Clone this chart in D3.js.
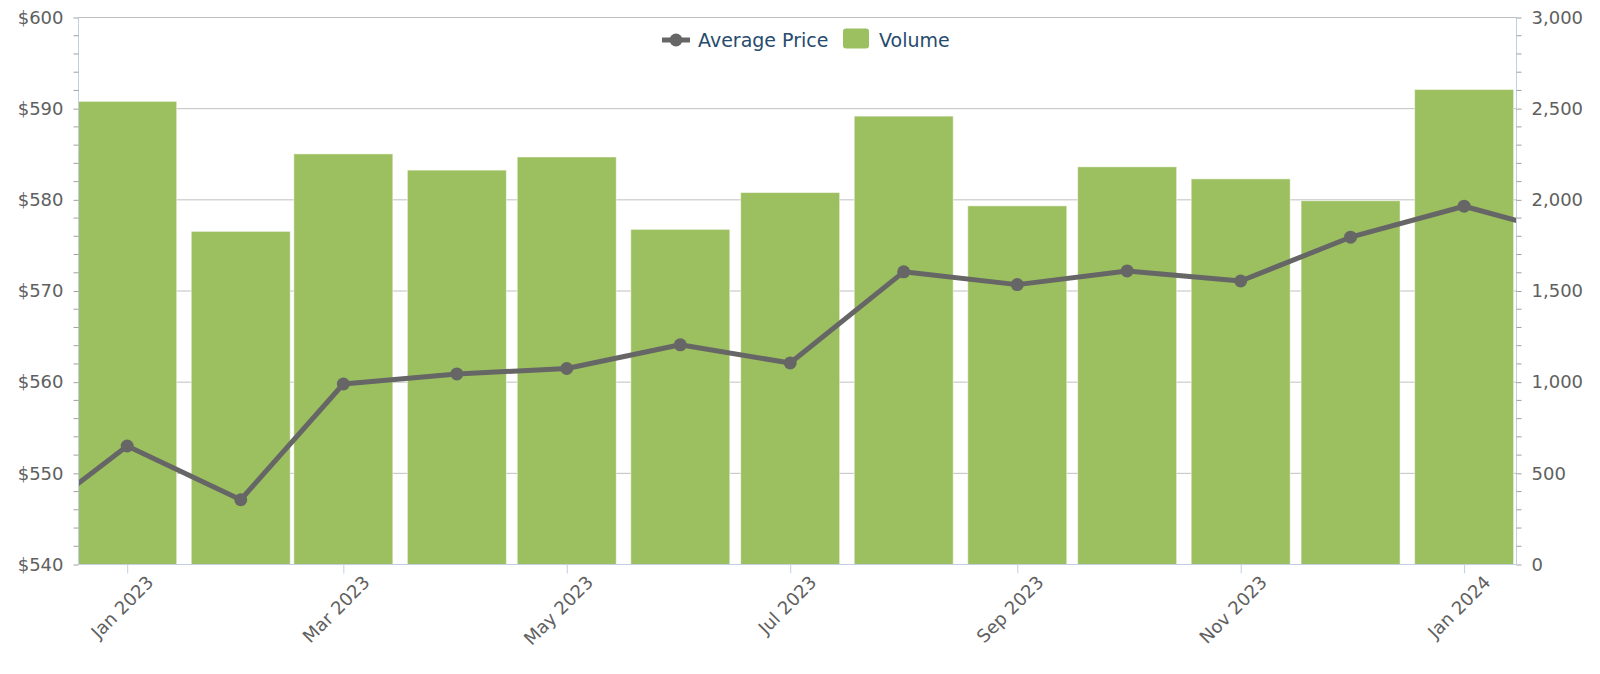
<!DOCTYPE html>
<html>
<head>
<meta charset="utf-8">
<script src="https://cdn.jsdelivr.net/npm/d3@7"></script>
<style>
	html, body { margin: 0; padding: 0; background: #fff; }
	svg { display: block; font-family: 'DejaVu Sans', Verdana, sans-serif; }
</style>
</head>
<body>
<div id="chart"></div>
<script>
// Monthly data; the first and last months sit just outside the visible range
const months = ['2022-12', '2023-01', '2023-02', '2023-03', '2023-04', '2023-05', '2023-06', '2023-07',
	'2023-08', '2023-09', '2023-10', '2023-11', '2023-12', '2024-01', '2024-02'];
const avgPrice = [543.5, 553.0, 547.1, 559.8, 560.9, 561.5, 564.1, 562.1,
	572.1, 570.7, 572.2, 571.1, 575.9, 579.3, 575.9];
const volume = [null, 2540, 1827, 2252, 2163, 2235, 1838, 2040,
	2459, 1967, 2181, 2115, 1995, 2605, null];

const priceTicks = [540, 550, 560, 570, 580, 590, 600];
const volumeTicks = [0, 500, 1000, 1500, 2000, 2500, 3000];
const seriesNames = ['Average Price', 'Volume'];

const width = 1600;
const height = 674;
const marginTop = 17.5;
const marginRight = 83.5;
const marginBottom = 109.5;
const marginLeft = 78.5;

const lineColor = '#666666';
const barColor = '#9cbf60';
const axisColor = '#c0d0e0';
const gridColor = '#c0c0c0';
const labelColor = '#606060';
const tickFont = '18px';

const parseMonth = d3.utcParse('%Y-%m');
const data = months.map((m, i) => ({ date: parseMonth(m), price: avgPrice[i], volume: volume[i] }));

const day = 24 * 3600 * 1000;
const x = d3.scaleUtc()
	.domain([new Date(Date.UTC(2023, 0, 1) - 13.3 * day), new Date(Date.UTC(2024, 0, 1) + 14.3 * day)])
	.range([marginLeft, width - marginRight]);

const yPrice = d3.scaleLinear().domain([540, 600]).range([height - marginBottom, marginTop]);
const yVolume = d3.scaleLinear().domain([0, 3000]).range([height - marginBottom, marginTop]);

const svg = d3.select('#chart')
	.append('svg')
	.attr('width', width)
	.attr('height', height)
	.attr('viewBox', [0, 0, width, height]);

svg.append('defs')
	.append('clipPath')
	.attr('id', 'plot-clip')
	.append('rect')
	.attr('x', marginLeft)
	.attr('y', marginTop - 10)
	.attr('width', width - marginLeft - marginRight)
	.attr('height', height - marginTop - marginBottom + 10);

// Grid lines (one per left axis tick)
svg.append('g')
	.selectAll('line')
	.data(priceTicks)
	.join('line')
	.attr('x1', marginLeft)
	.attr('x2', width - marginRight)
	.attr('y1', (d) => yPrice(d))
	.attr('y2', (d) => yPrice(d))
	.attr('stroke', gridColor)
	.attr('stroke-width', 1);

const plot = svg.append('g').attr('clip-path', 'url(#plot-clip)');

// Volume columns
const barWidth = 99;
plot.append('g')
	.selectAll('rect')
	.data(data.filter((d) => d.volume != null))
	.join('rect')
	.attr('x', (d) => x(d.date) - barWidth / 2)
	.attr('y', (d) => yVolume(d.volume))
	.attr('width', barWidth)
	.attr('height', (d) => yVolume(0) - yVolume(d.volume))
	.attr('fill', barColor)
	.attr('stroke', '#ffffff')
	.attr('stroke-opacity', 0.5)
	.attr('stroke-width', 1);

// Average price line
plot.append('path')
	.datum(data)
	.attr('fill', 'none')
	.attr('stroke', lineColor)
	.attr('stroke-width', 5)
	.attr('stroke-linejoin', 'round')
	.attr('d', d3.line().x((d) => x(d.date)).y((d) => yPrice(d.price)));

plot.append('g')
	.selectAll('circle')
	.data(data)
	.join('circle')
	.attr('cx', (d) => x(d.date))
	.attr('cy', (d) => yPrice(d.price))
	.attr('r', 6.5)
	.attr('fill', lineColor);

// Left axis (price)
const leftAxis = svg.append('g')
	.attr('transform', 'translate(' + [marginLeft, 0] + ')')
	.call(d3.axisLeft(yPrice).tickValues(priceTicks).tickSize(5).tickPadding(10).tickFormat((d) => '$' + d));

const minorPrice = d3.range(540, 600, 2).filter((d) => d % 10 != 0);
leftAxis.selectAll('.minor')
	.data(minorPrice)
	.join('line')
	.attr('class', 'minor')
	.attr('x1', -5)
	.attr('x2', 0)
	.attr('y1', (d) => yPrice(d))
	.attr('y2', (d) => yPrice(d))
	.attr('stroke', '#a0a0a0');

// Right axis (volume)
const rightAxis = svg.append('g')
	.attr('transform', 'translate(' + [width - marginRight, 0] + ')')
	.call(d3.axisRight(yVolume).tickValues(volumeTicks).tickSize(5).tickPadding(10).tickFormat(d3.format(',')));

const minorVolume = d3.range(0, 3000, 100).filter((d) => d % 500 != 0);
rightAxis.selectAll('.minor')
	.data(minorVolume)
	.join('line')
	.attr('class', 'minor')
	.attr('x1', 0)
	.attr('x2', 5)
	.attr('y1', (d) => yVolume(d))
	.attr('y2', (d) => yVolume(d))
	.attr('stroke', '#a0a0a0');

[leftAxis, rightAxis].forEach((ax) => {
	ax.select('.domain').attr('stroke', axisColor).attr('d', 'M0,' + marginTop + 'V' + (height - marginBottom));
	ax.selectAll('.tick line').attr('stroke', '#a0a0a0');
	ax.selectAll('.tick text')
		.attr('fill', labelColor)
		.style('font-size', tickFont)
		.style('font-family', "'DejaVu Sans', Verdana, sans-serif");
});

// Bottom axis (time)
const bottomAxis = svg.append('g')
	.attr('transform', 'translate(' + [0, height - marginBottom] + ')')
	.call(d3.axisBottom(x).ticks(d3.utcMonth.every(2)).tickSize(9).tickFormat(d3.utcFormat('%b %Y')));

bottomAxis.select('.domain').attr('stroke', axisColor).attr('d', 'M' + marginLeft + ',0H' + (width - marginRight));
bottomAxis.selectAll('.tick line').attr('stroke', axisColor);
bottomAxis.selectAll('.tick text')
	.attr('fill', labelColor)
	.attr('y', 0)
	.attr('dy', 0)
	.attr('transform', 'translate(27, 19) rotate(-45)')
	.style('text-anchor', 'end')
	.style('font-size', tickFont)
	.style('font-family', "'DejaVu Sans', Verdana, sans-serif");

// Legend
const legend = svg.append('g').attr('transform', 'translate(' + [662, 40] + ')');

legend.append('line')
	.attr('x1', 0)
	.attr('x2', 28)
	.attr('stroke', lineColor)
	.attr('stroke-width', 5);
legend.append('circle')
	.attr('cx', 14)
	.attr('r', 6.5)
	.attr('fill', lineColor);
legend.append('text')
	.attr('x', 36)
	.attr('y', 7)
	.text(seriesNames[0])
	.attr('fill', '#274b6d')
	.style('font-size', '19px');

legend.append('rect')
	.attr('x', 181)
	.attr('y', -11.5)
	.attr('width', 26)
	.attr('height', 20)
	.attr('rx', 3)
	.attr('fill', barColor);
legend.append('text')
	.attr('x', 217)
	.attr('y', 7)
	.text(seriesNames[1])
	.attr('fill', '#274b6d')
	.style('font-size', '19px');
</script>
</body>
</html>
